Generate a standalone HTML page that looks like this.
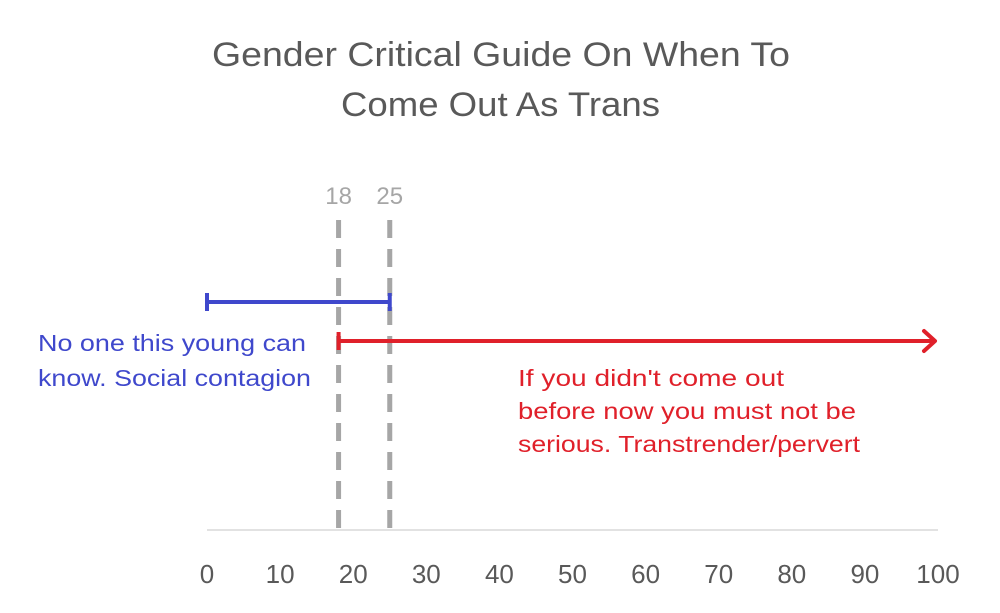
<!DOCTYPE html>
<html><head><meta charset="utf-8"><style>
html,body{margin:0;padding:0;background:#fff;}
svg{display:block;font-family:"Liberation Sans",sans-serif;}
</style></head><body>
<svg id="chart" width="1000" height="613" viewBox="0 0 1000 613" xmlns="http://www.w3.org/2000/svg">
<text x="212" y="66" textLength="578" lengthAdjust="spacingAndGlyphs" font-size="34" fill="#595959">Gender Critical Guide On When To</text>
<text x="341" y="116" textLength="319" lengthAdjust="spacingAndGlyphs" font-size="34" fill="#595959">Come Out As Trans</text>
<line x1="207" y1="530" x2="938" y2="530" stroke="#d9d9d9" stroke-width="1.5"/>
<g id="ticks"></g>
<g id="marks"></g>
<text x="38" y="351" textLength="268" lengthAdjust="spacingAndGlyphs" font-size="23" fill="#3f48cc">No one this young can</text>
<text x="38" y="386" textLength="273" lengthAdjust="spacingAndGlyphs" font-size="23" fill="#3f48cc">know. Social contagion</text>
<text x="518" y="386" textLength="266" lengthAdjust="spacingAndGlyphs" font-size="23" fill="#e0202a">If you didn't come out</text>
<text x="518" y="419" textLength="338" lengthAdjust="spacingAndGlyphs" font-size="23" fill="#e0202a">before now you must not be</text>
<text x="518" y="452" textLength="342" lengthAdjust="spacingAndGlyphs" font-size="23" fill="#e0202a">serious. Transtrender/pervert</text>
</svg>
<script>
const tickValues=[0,10,20,30,40,50,60,70,80,90,100];
const markerAges=[18,25];
const blueRange=[0,25];
const redRange=[18,100];
const NS="http://www.w3.org/2000/svg";
const x0=207,x1=938;
function xs(v){return x0+(v/100)*(x1-x0);}
const ticks=document.getElementById('ticks');
const marks=document.getElementById('marks');
function mk(tag,attrs,parent){const e=document.createElementNS(NS,tag);for(const k in attrs)e.setAttribute(k,attrs[k]);parent.appendChild(e);return e;}
tickValues.forEach(v=>{
 const t=mk('text',{x:xs(v),y:583,'text-anchor':'middle','font-size':'26',fill:'#595959'},ticks);
 
 
 t.textContent=v;
});
markerAges.forEach(v=>{
 const l=mk('line',{x1:xs(v),y1:220,x2:xs(v),y2:530,stroke:'#a6a6a6','stroke-width':5,'stroke-dasharray':'18 11'},marks);
 
 
 const t=mk('text',{x:xs(v),y:204,'text-anchor':'middle','font-size':'24',fill:'#a6a6a6'},marks);
 
 
 t.textContent=v;
});
const by=302;
const b=mk('line',{x1:xs(blueRange[0]),y1:by,x2:xs(blueRange[1]),y2:by,stroke:'#3f48cc','stroke-width':4},marks);


[blueRange[0],blueRange[1]].forEach(v=>{
 const c=mk('line',{x1:xs(v),y1:by-9,x2:xs(v),y2:by+9,stroke:'#3f48cc','stroke-width':4},marks);
 
 
});
const ry=341;
const r=mk('line',{x1:xs(redRange[0]),y1:ry,x2:xs(redRange[1])-3,y2:ry,stroke:'#e0202a','stroke-width':4},marks);


const rc=mk('line',{x1:xs(redRange[0]),y1:ry-9,x2:xs(redRange[0]),y2:ry+9,stroke:'#e0202a','stroke-width':4},marks);


const ax=xs(redRange[1])-3;
const ah=mk('polyline',{points:`${ax-11},${ry-10} ${ax},${ry} ${ax-11},${ry+10}`,fill:'none',stroke:'#e0202a','stroke-width':4,'stroke-linecap':'round','stroke-linejoin':'round'},marks);


</script>
</body></html>
